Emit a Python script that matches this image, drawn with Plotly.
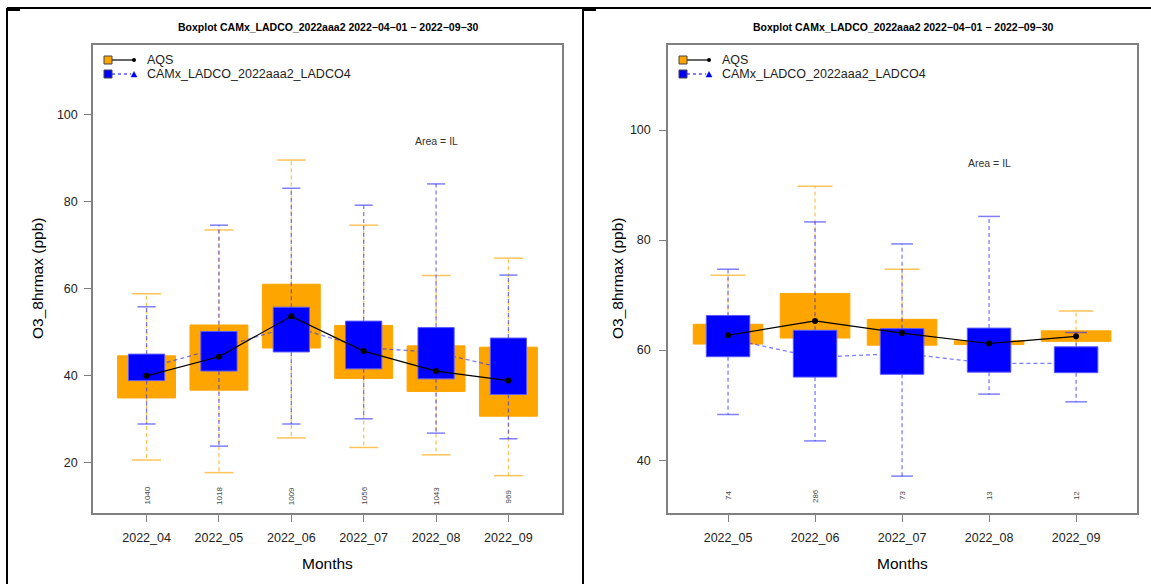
import plotly.graph_objects as go

# ---------------- data ----------------
months_l = ['2022_04', '2022_05', '2022_06', '2022_07', '2022_08', '2022_09']
aqs_q1_l = [34.8, 36.6, 46.3, 39.3, 36.3, 30.6]
aqs_q3_l = [44.5, 51.6, 61.0, 51.5, 46.8, 46.5]
aqs_med_l = [39.9, 44.3, 53.6, 45.6, 41.0, 38.8]
aqs_lo_l = [20.5, 17.6, 25.6, 23.4, 21.7, 16.9]
aqs_hi_l = [58.8, 73.5, 89.6, 74.6, 63.0, 67.0]
mod_q1_l = [38.8, 41.0, 45.4, 41.5, 39.2, 35.6]
mod_q3_l = [44.9, 50.1, 55.7, 52.5, 51.0, 48.6]
mod_med_l = [41.7, 46.3, 51.3, 46.4, 45.3, 41.4]
mod_lo_l = [28.8, 23.7, 28.8, 30.0, 26.7, 25.4]
mod_hi_l = [55.8, 74.6, 83.1, 79.2, 84.1, 63.1]
n_l = [1040, 1018, 1009, 1056, 1043, 969]

months_r = ['2022_05', '2022_06', '2022_07', '2022_08', '2022_09']
aqs_q1_r = [61.1, 62.2, 60.9, 61.0, 61.6]
aqs_q3_r = [64.7, 70.3, 65.6, 61.7, 63.5]
aqs_med_r = [62.7, 65.3, 63.1, 61.2, 62.5]
aqs_lo_r = [60.0, 57.0, 57.0, 60.5, 58.0]
aqs_hi_r = [73.6, 89.8, 74.7, 62.5, 67.1]
mod_q1_r = [58.8, 55.1, 55.6, 56.0, 55.9]
mod_q3_r = [66.3, 63.6, 63.9, 64.0, 60.6]
mod_med_r = [62.1, 58.7, 59.4, 57.6, 57.6]
mod_lo_r = [48.3, 43.5, 37.1, 52.0, 50.6]
mod_hi_r = [74.7, 83.3, 79.3, 84.3, 63.2]
n_r = [74, 286, 73, 13, 12]

title_text = "Boxplot CAMx_LADCO_2022aaa2 2022\u221204\u221201 \u2212 2022\u221209\u221230"
obs_name = "AQS"
mod_name = "CAMx_LADCO_2022aaa2_LADCO4"
area_text = "Area = IL"
y_title = "O3_8hrmax (ppb)"
x_title = "Months"

# ---------------- style ----------------
W, H = 1151, 584
FONT = "Liberation Sans, Arial, Helvetica, sans-serif"
ORANGE = "#FFA500"
BLUE = "#0000FF"
ORANGE_W = "rgba(255,165,0,0.65)"
BLUE_W = "rgba(40,40,255,0.6)"
BLUE_EDGE = "rgba(90,90,255,1)"
AXCOL = "#808080"
TXT = "#222222"
WBOX_O, WBOX_B = 0.8, 0.5


def px_x(p):
    return p / W


def px_y(p):
    return 1 - p / H


fig = go.Figure()


def segs_vertical(pos, a, b):
    xs, ys = [], []
    for p, y0, y1 in zip(pos, a, b):
        xs += [p, p, None]
        ys += [y0, y1, None]
    return xs, ys


def segs_caps(pos, vals, half):
    xs, ys = [], []
    for p, v in zip(pos, vals):
        xs += [p - half, p + half, None]
        ys += [v, v, None]
    return xs, ys


def boxes(pos, q1, q3, half):
    xs, ys = [], []
    for p, a, b in zip(pos, q1, q3):
        xs += [p - half, p + half, p + half, p - half, p - half, None]
        ys += [a, a, b, b, a, None]
    return xs, ys


def add_panel(xa, ya, aq1, aq3, amed, alo, ahi, mq1, mq3, mmed, mlo, mhi):
    pos = list(range(1, len(aq1) + 1))
    kw = dict(xaxis=xa, yaxis=ya, showlegend=False, hoverinfo="skip")
    # orange whiskers
    x1, y1 = segs_vertical(pos, aq3, ahi)
    x2, y2 = segs_vertical(pos, aq1, alo)
    fig.add_trace(go.Scatter(x=x1 + x2, y=y1 + y2, mode="lines",
                             line=dict(color=ORANGE_W, width=1.3, dash="4px,3px"), **kw))
    x1, y1 = segs_caps(pos, ahi, WBOX_O / 4)
    x2, y2 = segs_caps(pos, alo, WBOX_O / 4)
    fig.add_trace(go.Scatter(x=x1 + x2, y=y1 + y2, mode="lines",
                             line=dict(color=ORANGE_W, width=1.5), **kw))
    # orange boxes
    bx, by = boxes(pos, aq1, aq3, WBOX_O / 2)
    fig.add_trace(go.Scatter(x=bx, y=by, mode="lines", fill="toself", fillcolor=ORANGE,
                             line=dict(color=ORANGE, width=1), **kw))
    # model median line
    fig.add_trace(go.Scatter(x=pos, y=mmed, mode="lines+markers",
                             line=dict(color=BLUE_W, width=1.3, dash="4px,3px"),
                             marker=dict(symbol="triangle-up", size=6, color=BLUE), **kw))
    # blue whiskers
    x1, y1 = segs_vertical(pos, mq3, mhi)
    x2, y2 = segs_vertical(pos, mq1, mlo)
    fig.add_trace(go.Scatter(x=x1 + x2, y=y1 + y2, mode="lines",
                             line=dict(color=BLUE_W, width=1.3, dash="4px,3px"), **kw))
    x1, y1 = segs_caps(pos, mhi, WBOX_B / 4)
    x2, y2 = segs_caps(pos, mlo, WBOX_B / 4)
    fig.add_trace(go.Scatter(x=x1 + x2, y=y1 + y2, mode="lines",
                             line=dict(color=BLUE_W, width=1.5), **kw))
    # blue boxes
    bx, by = boxes(pos, mq1, mq3, WBOX_B / 2)
    fig.add_trace(go.Scatter(x=bx, y=by, mode="lines", fill="toself", fillcolor=BLUE,
                             line=dict(color=BLUE_EDGE, width=1), **kw))
    # obs median line
    fig.add_trace(go.Scatter(x=pos, y=amed, mode="lines+markers",
                             line=dict(color="black", width=1.2),
                             marker=dict(symbol="circle", size=6, color="black"), **kw))


add_panel("x", "y", aqs_q1_l, aqs_q3_l, aqs_med_l, aqs_lo_l, aqs_hi_l,
          mod_q1_l, mod_q3_l, mod_med_l, mod_lo_l, mod_hi_l)
add_panel("x2", "y2", aqs_q1_r, aqs_q3_r, aqs_med_r, aqs_lo_r, aqs_hi_r,
          mod_q1_r, mod_q3_r, mod_med_r, mod_lo_r, mod_hi_r)

axis_common = dict(showline=True, mirror=True, linecolor=AXCOL, linewidth=1.5,
                   ticks="outside", ticklen=7, tickcolor=AXCOL, tickwidth=1.3,
                   showgrid=False, zeroline=False,
                   tickfont=dict(family=FONT, size=12.5, color=TXT))

panels = [
    dict(left=93, right=562, months=months_l, xr=[0.26, 6.74], yr=[8.3, 116.1],
         yt=[20, 40, 60, 80, 100], n=n_l, xa="x", ya="y", ystand=4, ytitle_off=56),
    dict(left=668, right=1137, months=months_r, xr=[0.31, 5.70], yr=[30.4, 115.45],
         yt=[40, 60, 80, 100], n=n_r, xa="x2", ya="y2", ystand=6, ytitle_off=51),
]
top_px, bot_px = 45, 513

layout_axes = {}
annotations = []
shapes = []


def ann(**k):
    d = dict(showarrow=False, xanchor="center", yanchor="middle")
    d.update(k)
    annotations.append(d)


for i, p in enumerate(panels):
    sx = "" if i == 0 else "2"
    layout_axes["xaxis" + sx] = dict(axis_common, domain=[px_x(p["left"]), px_x(p["right"])],
                                     range=p["xr"], tickmode="array",
                                     tickvals=list(range(1, len(p["months"]) + 1)),
                                     ticktext=p["months"], anchor="y" + sx,
                                     ticklabelstandoff=5)
    layout_axes["yaxis" + sx] = dict(axis_common, domain=[px_y(bot_px), px_y(top_px)],
                                     range=p["yr"], tickmode="array", tickvals=p["yt"],
                                     anchor="x" + sx, ticklabelstandoff=p["ystand"])
    cx = (p["left"] + p["right"]) / 2
    # title
    ann(text="<b>" + title_text + "</b>", x=px_x(cx), y=px_y(27), xref="paper", yref="paper",
        font=dict(family=FONT, size=10.5, color="black"))
    # axis titles
    ann(text=x_title, x=px_x(cx), y=px_y(563), xref="paper", yref="paper",
        font=dict(family=FONT, size=15.5, color="black"))
    ann(text=y_title, x=px_x(p["left"] - p["ytitle_off"]), y=px_y((top_px + bot_px) / 2),
        xref="paper", yref="paper", textangle=-90,
        font=dict(family=FONT, size=15.5, color="black"))
    # counts
    for k, nv in enumerate(p["n"]):
        ann(text=str(nv), x=k + 1, y=px_y(496), xref=p["xa"], yref="paper", textangle=-90,
            font=dict(family=FONT, size=8, color="#444444"))
    # area text
    ann(text=area_text, x=len(p["months"]) - 1, y=94, xref=p["xa"], yref=p["ya"],
        font=dict(family=FONT, size=10.5, color="#333333"))
    # legend (manual)
    lx = p["left"] + 11
    for yy, name in ((60, obs_name), (74, mod_name)):
        ann(text=name, x=px_x(lx + 41), y=px_y(yy), xref="paper", yref="paper",
            xanchor="left", font=dict(family=FONT, size=12.5, color=TXT))
    # AQS legend symbol
    shapes.append(dict(type="line", xref="paper", yref="paper", x0=px_x(lx + 8), x1=px_x(lx + 30),
                       y0=px_y(60), y1=px_y(60), line=dict(color="black", width=1.2)))
    shapes.append(dict(type="rect", xref="paper", yref="paper", x0=px_x(lx), x1=px_x(lx + 8),
                       y0=px_y(64), y1=px_y(56), fillcolor=ORANGE, line=dict(color="#444", width=1)))
    shapes.append(dict(type="circle", xref="paper", yref="paper", x0=px_x(lx + 28), x1=px_x(lx + 32),
                       y0=px_y(62), y1=px_y(58), fillcolor="black", line=dict(color="black", width=0)))
    # model legend symbol
    shapes.append(dict(type="line", xref="paper", yref="paper", x0=px_x(lx + 8), x1=px_x(lx + 27),
                       y0=px_y(74), y1=px_y(74), line=dict(color=BLUE, width=1.2, dash="3px,3px")))
    shapes.append(dict(type="rect", xref="paper", yref="paper", x0=px_x(lx), x1=px_x(lx + 8),
                       y0=px_y(78), y1=px_y(70), fillcolor=BLUE, line=dict(color="#444", width=1)))
    tri = "M {} {} L {} {} L {} {} Z".format(px_x(lx + 27), px_y(77), px_x(lx + 33), px_y(77),
                                             px_x(lx + 30), px_y(71.5))
    shapes.append(dict(type="path", xref="paper", yref="paper", path=tri,
                       fillcolor=BLUE, line=dict(color=BLUE, width=0.5)))

# outer frame lines
frame = [((7, 8), (W, 8)), ((7, 8), (7, H)), ((583, 8), (583, H)),
         ((7, 10), (20, 10)), ((583, 10), (596, 10))]
for (xa0, ya0), (xa1, ya1) in frame:
    shapes.append(dict(type="line", xref="paper", yref="paper", x0=px_x(xa0), x1=px_x(xa1),
                       y0=px_y(ya0), y1=px_y(ya1), line=dict(color="black", width=2)))

fig.update_layout(width=W, height=H, autosize=False,
                  margin=dict(l=0, r=0, t=0, b=0, pad=0),
                  paper_bgcolor="white", plot_bgcolor="white",
                  showlegend=False, annotations=annotations, shapes=shapes,
                  font=dict(family=FONT), **layout_axes)

fig.write_html("out.html", config={"displayModeBar": False},
               post_script="document.body.style.margin='0';document.body.style.overflow='hidden';")
